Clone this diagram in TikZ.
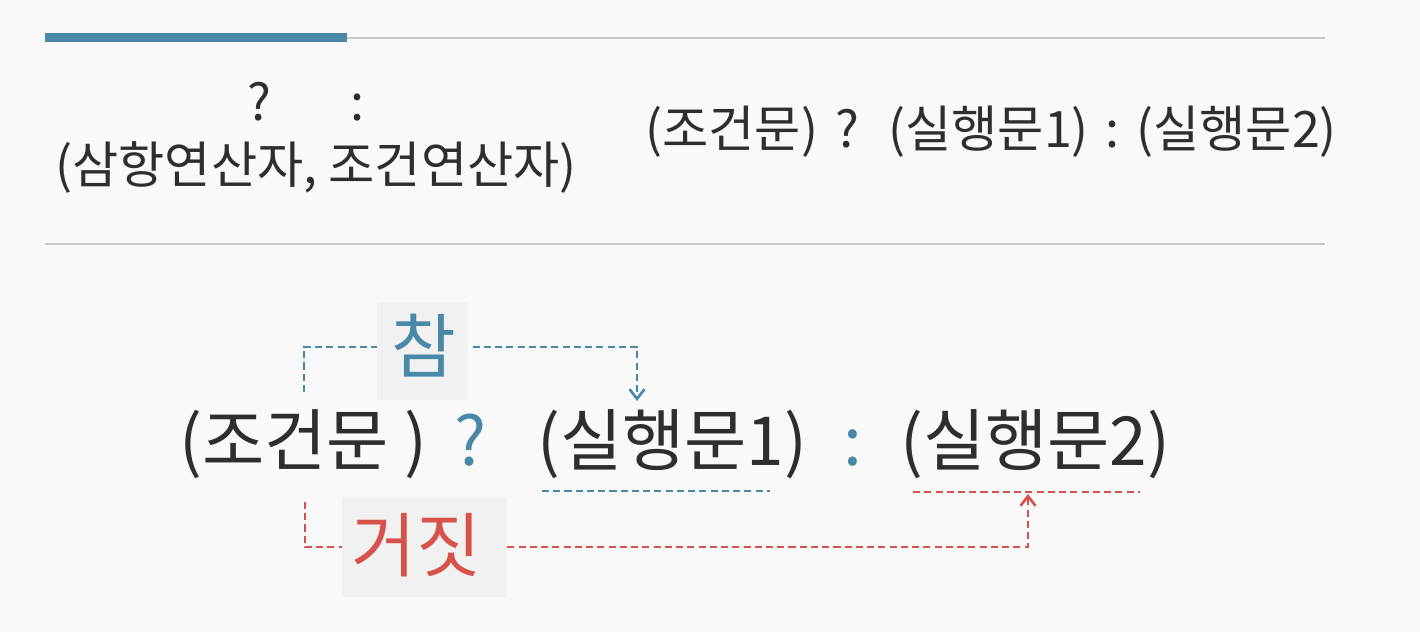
\documentclass[tikz,border=0pt]{standalone}
\usepackage{fontspec}
\setmainfont{Noto Sans CJK KR}
\usetikzlibrary{arrows.meta}
\definecolor{bg}{HTML}{F9F9F9}
\definecolor{ink}{HTML}{2E2E2E}
\definecolor{tblue}{HTML}{4A88A8}
\definecolor{tred}{HTML}{D6524A}
\definecolor{lbox}{HTML}{F1F1F1}
\definecolor{rulec}{HTML}{C8C8C8}
\begin{document}
\begin{tikzpicture}[x=0.02cm,y=-0.02cm,
  txt/.style={inner sep=0pt, anchor=base west, text=ink},
  small/.style={txt, font=\fontsize{28.6}{32}\selectfont},
  big/.style={txt, font=\fontsize{38.5}{44}\selectfont},
  labtxt/.style={inner sep=0pt, font=\fontsize{40}{44}\selectfont},
  dsh/.style={line width=1.6pt, dash pattern=on 4pt off 2.4pt},
  tip/.style={-{Straight Barb[length=5.5pt,width=8.5pt,line width=1.5pt]}}
]
\useasboundingbox[fill=bg] (0,0) rectangle (1420,632);
% rules
\draw[rulec, line width=1.2pt] (45,38) -- (1325,38);
\draw[tblue, line width=5pt] (45,37.5) -- (347,37.5);
\draw[rulec, line width=1.2pt] (45,244) -- (1325,244);
% top left
\node[small, anchor=base] (q0) at (259,120) {?};
\node[small, anchor=base] (c0) at (357,120) {:};
\node[small] (name) at (55,183) {(삼항연산자, 조건연산자)};
% top right
\node[small] (tc) at (645,147) {(조건문)};
\node[small, anchor=base] (tq) at (847,147) {?};
\node[small] (ts1) at (888,147) {(실행문1)};
\node[small, anchor=base] (tcol) at (1112,147) {:};
\node[small] (ts2) at (1136,147) {(실행문2)};
% main row
\node[big] (cond) at (179,465) {(조건문 )};
\node[big, anchor=base, text=tblue] (mq) at (471,465) {?};
\node[big] (st1) at (537,465) {(실행문1)};
\node[big, anchor=base, text=tblue] (mcol) at (853,465) {:};
\node[big] (st2) at (900,465) {(실행문2)};
% underlines
\draw[tblue, dsh] (542,491) -- (770,491);
\draw[tred, dsh] (913,492) -- (1140,492);
% coordinates
\coordinate (bs) at (304,392);
\coordinate (be) at (637,401);
\coordinate (bt) at (637,347);
\coordinate (rs) at (305,502);
\coordinate (re) at (1028,494);
\coordinate (rt) at (1028,547);
% connectors
\draw[tblue, dsh, tip] (bs) |- (bt) -- (be);
\draw[tred, dsh, tip] (rs) |- (rt) -- (re);
% labels
\fill[lbox] (377,302) rectangle (468,400);
\node[labtxt, text=tblue] (tl) at (424,346) {참};
\fill[lbox] (342,497) rectangle (507,597);
\node[labtxt, text=tred] (fl) at (416,545) {거짓};
\end{tikzpicture}
\end{document}
